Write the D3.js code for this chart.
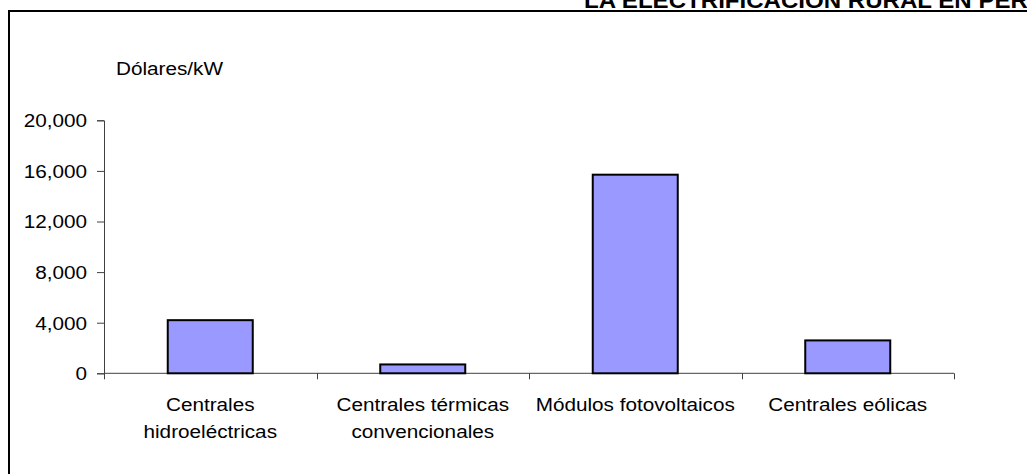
<!DOCTYPE html>
<html>
<head>
<meta charset="utf-8">
<script src="https://cdn.jsdelivr.net/npm/d3@7"></script>
<style>
  html, body { margin: 0; padding: 0; background: #fff; overflow: hidden; }
  svg { display: block; font-family: "Liberation Sans", Arial, sans-serif; }
</style>
</head>
<body>
<script>
// Investment cost per installed kW for rural electrification technologies
const categories = [
  ["Centrales", "hidroeléctricas"],
  ["Centrales térmicas", "convencionales"],
  ["Módulos fotovoltaicos"],
  ["Centrales eólicas"]
];
const costs = [4200, 700, 15700, 2600];
const yTicks = [0, 4000, 8000, 12000, 16000, 20000];
const titleText = "LA ELECTRIFICACIÓN RURAL EN PERÚ";
const unitLabel = "Dólares/kW";

const W = 1027, H = 474;
const plot = { left: 104, right: 954, top: 120.3, bottom: 373.3 };
const stretch = 1.12; // horizontal text stretch

const svg = d3.select("body").append("svg")
  .attr("width", W).attr("height", H);

// outer frame (extends past the page on right and bottom)
svg.append("rect")
  .attr("x", 9).attr("y", 11)
  .attr("width", W + 20).attr("height", H + 20)
  .attr("fill", "none").attr("stroke", "#000").attr("stroke-width", 2);

// header title, running off the top-right corner of the page
svg.append("text")
  .attr("transform", `translate(584,8) scale(${stretch},1)`)
  .attr("font-size", 21.5).attr("font-weight", "bold")
  .attr("fill", "#000")
  .text(titleText);

const x = d3.scaleBand()
  .domain(d3.range(categories.length))
  .range([plot.left, plot.right])
  .paddingInner(0).paddingOuter(0);

const y = d3.scaleLinear()
  .domain([0, 20000])
  .range([plot.bottom, plot.top]);

const fmt = d3.format(",");

// y axis
const yAxis = svg.append("g")
  .attr("transform", `translate(${plot.left},0)`)
  .call(d3.axisLeft(y).tickValues(yTicks).tickSize(7).tickPadding(10).tickFormat(() => ""));
yAxis.select(".domain").attr("stroke", "#404040");
yAxis.selectAll(".tick line").attr("stroke", "#404040");

yAxis.selectAll(".tick").append("text")
  .attr("transform", `translate(-17,0) scale(${stretch},1)`)
  .attr("dy", "0.35em")
  .attr("text-anchor", "end")
  .attr("font-size", 18.5)
  .attr("fill", "#000")
  .text(d => fmt(d));

// x axis with ticks at category boundaries
const boundaries = d3.range(categories.length + 1).map(i => plot.left + i * x.bandwidth());
const xg = svg.append("g");
xg.append("line")
  .attr("x1", plot.left).attr("x2", plot.right)
  .attr("y1", y(0)).attr("y2", y(0))
  .attr("stroke", "#404040");
xg.selectAll("line.tk").data(boundaries).join("line")
  .attr("class", "tk")
  .attr("x1", d => Math.round(d) + 0.5).attr("x2", d => Math.round(d) + 0.5)
  .attr("y1", y(0)).attr("y2", y(0) + 6)
  .attr("stroke", "#404040");

// bars
const barW = x.bandwidth() / 2.5;
svg.append("g").selectAll("rect").data(costs).join("rect")
  .attr("x", (d, i) => x(i) + (x.bandwidth() - barW) / 2)
  .attr("y", d => y(d))
  .attr("width", barW)
  .attr("height", d => y(0) - y(d))
  .attr("fill", "#9999FF")
  .attr("stroke", "#000")
  .attr("stroke-width", 2);

// category labels
const cl = svg.append("g").selectAll("g").data(categories).join("g")
  .attr("transform", (d, i) => `translate(${x(i) + x.bandwidth() / 2},0)`);
cl.selectAll("text").data(d => d).join("text")
  .attr("transform", (d, j) => `translate(0,${411 + j * 26.5}) scale(${stretch},1)`)
  .attr("text-anchor", "middle")
  .attr("font-size", 18.5)
  .attr("fill", "#000")
  .text(d => d);

// unit label
svg.append("text")
  .attr("transform", `translate(116,75) scale(${stretch},1)`)
  .attr("font-size", 18.5)
  .attr("fill", "#000")
  .text(unitLabel);
</script>
</body>
</html>
